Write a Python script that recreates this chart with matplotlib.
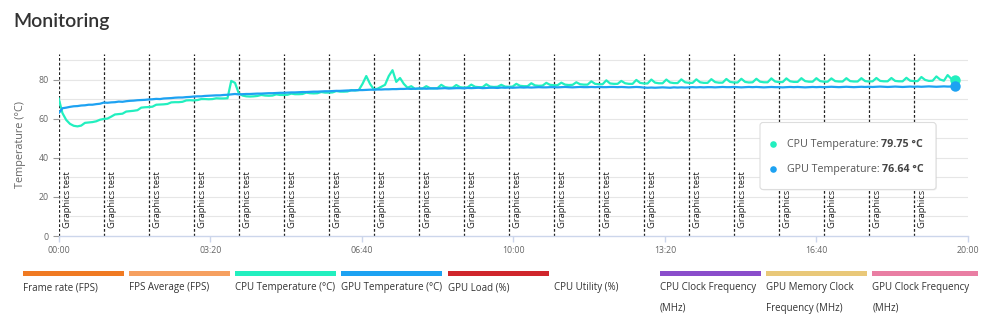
import matplotlib
matplotlib.use("Agg")
import matplotlib.pyplot as plt
from matplotlib.patches import Rectangle, FancyBboxPatch, Circle
from matplotlib.transforms import IdentityTransform, offset_copy
from matplotlib.ticker import FuncFormatter, MultipleLocator
import numpy as np

plt.rcParams['font.family'] = ['Open Sans', 'DejaVu Sans']

# ---------------- data ----------------
sample_interval_s = 4.95

cpu_temp = [
    70.5, 63.0, 59.5, 57.5, 56.5, 56.2, 56.6, 58.0, 58.2, 58.4, 58.8, 59.6,
    60.0, 60.2, 61.2, 62.3, 62.5, 62.7, 63.8, 64.0, 64.2, 64.5, 65.8, 66.0,
    66.1, 66.3, 67.3, 67.4, 67.5, 67.7, 68.5, 68.6, 68.6, 68.8, 69.5, 69.6,
    69.5, 69.7, 70.2, 70.2, 70.1, 70.2, 70.6, 70.5, 70.5, 70.6, 79.5, 78.5,
    73.2, 72.0, 71.6, 71.5, 71.6, 71.8, 72.3, 72.0, 71.9, 72.0, 72.6, 72.3,
    72.3, 72.4, 73.0, 72.7, 72.7, 72.8, 73.5, 73.2, 73.1, 73.2, 73.8, 73.5,
    73.5, 73.6, 74.3, 74.0, 74.0, 74.1, 74.8, 74.6, 74.8, 78.0, 82.0, 78.0,
    75.2, 75.5, 76.5, 77.5, 82.0, 85.0, 79.0, 81.0, 78.0, 76.0, 76.8, 75.4,
    75.6, 75.6, 76.8, 75.8, 75.6, 75.8, 77.5, 76.3, 76.0, 76.0, 77.4, 76.3,
    76.1, 76.2, 77.6, 76.5, 76.3, 76.3, 77.8, 76.6, 76.4, 76.5, 77.5, 76.6,
    76.5, 76.6, 78.0, 77.0, 76.8, 76.8, 78.3, 77.2, 77.0, 77.1, 78.5, 77.5,
    77.3, 77.3, 78.6, 77.6, 77.4, 77.5, 78.8, 77.8, 77.6, 77.6, 79.3, 78.0,
    77.8, 77.8, 79.8, 78.2, 78.0, 78.0, 79.5, 78.3, 78.0, 78.0, 80.0, 78.5,
    78.2, 78.2, 80.2, 78.6, 78.3, 78.3, 80.2, 78.7, 78.4, 78.4, 80.3, 78.8,
    78.5, 78.5, 80.3, 78.8, 78.5, 78.5, 80.4, 78.9, 78.6, 78.6, 80.5, 79.0,
    78.7, 78.7, 80.6, 79.0, 78.7, 78.8, 80.6, 79.1, 78.8, 78.8, 80.8, 79.2,
    78.9, 78.9, 80.8, 79.3, 79.0, 79.0, 80.9, 79.4, 79.1, 79.1, 80.9, 79.4,
    79.1, 79.1, 80.8, 79.4, 79.2, 79.2, 80.9, 79.4, 79.2, 79.2, 80.9, 79.4,
    79.2, 79.3, 81.0, 79.5, 79.3, 79.3, 81.0, 79.5, 79.3, 79.3, 81.1, 79.6,
    79.4, 79.4, 81.5, 80.0, 79.5, 79.6, 81.8, 80.2, 79.6, 82.5, 80.5, 79.75,
]

gpu_temp = [
    63.0, 65.5, 65.8, 66.2, 66.5, 66.6, 66.9, 67.0, 67.3, 67.3, 67.6, 67.8,
    68.4, 68.3, 68.5, 68.6, 68.9, 68.8, 69.1, 69.3, 69.4, 69.6, 69.7, 69.8,
    70.0, 70.1, 70.3, 70.2, 70.5, 70.6, 70.7, 70.9, 71.0, 71.0, 71.2, 71.3,
    71.5, 71.6, 71.6, 71.8, 71.9, 72.0, 72.1, 72.1, 72.3, 72.4, 72.6, 72.8,
    72.6, 72.7, 72.8, 72.8, 72.9, 73.0, 73.0, 73.1, 73.2, 73.2, 73.3, 73.4,
    73.4, 73.5, 73.6, 73.6, 73.7, 73.8, 73.8, 73.9, 74.0, 74.0, 74.1, 74.2,
    74.2, 74.3, 74.4, 74.4, 74.5, 74.6, 74.6, 74.7, 74.8, 74.8, 74.9, 75.0,
    75.0, 75.1, 75.1, 75.2, 75.2, 75.3, 75.3, 75.4, 75.4, 75.5, 75.4, 75.5,
    75.6, 75.6, 75.5, 75.6, 75.7, 75.6, 75.7, 75.8, 75.6, 75.7, 75.8, 75.8,
    75.7, 75.9, 75.8, 75.9, 76.0, 75.8, 75.9, 76.0, 76.0, 75.9, 76.1, 76.0,
    76.1, 76.0, 76.1, 76.2, 76.1, 76.2, 76.1, 76.2, 76.3, 76.2, 76.2, 76.3,
    76.3, 76.2, 76.3, 76.4, 76.3, 76.2, 76.3, 76.4, 76.3, 76.3, 76.4, 76.3,
    76.4, 76.3, 76.3, 76.4, 76.4, 76.3, 76.4, 76.3, 76.2, 76.3, 76.4, 76.3,
    76.1, 76.0, 76.1, 76.0, 76.1, 76.2, 76.1, 76.0, 76.2, 76.1, 76.2, 76.1,
    76.2, 76.3, 76.2, 76.3, 76.2, 76.3, 76.3, 76.2, 76.3, 76.4, 76.3, 76.3,
    76.4, 76.3, 76.2, 76.3, 76.4, 76.3, 76.4, 76.3, 76.2, 76.3, 76.4, 76.3,
    76.3, 76.2, 76.3, 76.4, 76.3, 76.4, 76.3, 76.2, 76.3, 76.4, 76.3, 76.4,
    76.3, 76.4, 76.5, 76.4, 76.3, 76.4, 76.5, 76.4, 76.3, 76.4, 76.5, 76.4,
    76.5, 76.4, 76.5, 76.6, 76.5, 76.4, 76.5, 76.6, 76.5, 76.4, 76.5, 76.6,
    76.5, 76.6, 76.5, 76.6, 76.7, 76.6, 76.5, 76.6, 76.7, 76.6, 76.6, 76.64,
]

event_times_s = [0, 59.4, 118.8, 178.2, 237.6, 297.0, 356.4, 415.8, 475.2, 534.6,
                 594.0, 653.4, 712.8, 772.2, 831.6, 891.0, 950.4, 1009.8, 1069.2, 1128.6]
event_label = "Graphics test"

legend_labels = ["Frame rate (FPS)", "FPS Average (FPS)", "CPU Temperature (°C)",
                 "GPU Temperature (°C)", "GPU Load (%)", "CPU Utility (%)",
                 "CPU Clock Frequency\n(MHz)", "GPU Memory Clock\nFrequency (MHz)",
                 "GPU Clock Frequency\n(MHz)"]
legend_colors = ["#F07A22", "#F6A060", "#22EFBF", "#1DA2F2", "#D0262C", "#FFFFFF",
                 "#8A4DCB", "#E9C879", "#E97EA3"]

cpu_color = "#22EFBF"
gpu_color = "#1DA2F2"

tooltip_rows = [("CPU Temperature: ", "79.75 °C", cpu_color),
                ("GPU Temperature: ", "76.64 °C", gpu_color)]

# ---------------- figure ----------------
W, H = 1000, 330
fig = plt.figure(figsize=(W / 100, H / 100), dpi=100)
fig.patch.set_facecolor("white")


def fx(px):
    return px / W


def fy(py):
    return 1 - py / H


ax_left, ax_right, ax_top, ax_bottom = 58.7, 968, 54, 236
ax = fig.add_axes([fx(ax_left), fy(ax_bottom), fx(ax_right) - fx(ax_left), fy(ax_top) - fy(ax_bottom)])

t = np.arange(len(cpu_temp)) * sample_interval_s

ax.set_xlim(0, 1200)
ax.set_ylim(0, 93.3)

for s in ["top", "right", "left"]:
    ax.spines[s].set_visible(False)
ax.spines["bottom"].set_color("#ccd6eb")
ax.spines["bottom"].set_linewidth(1)

ax.yaxis.set_major_locator(MultipleLocator(20))
ax.yaxis.set_minor_locator(MultipleLocator(10))
ax.xaxis.set_major_locator(MultipleLocator(200))
ax.xaxis.set_major_formatter(FuncFormatter(lambda v, p: f"{int(v // 60):02d}:{int(round(v % 60)):02d}"))

ax.tick_params(axis="x", colors="#ccd6eb", length=4, width=1, labelcolor="#666666", labelsize=6.3, pad=3)
ax.tick_params(axis="y", which="major", colors="#999999", length=4, width=0.8, labelcolor="#666666", labelsize=6.3, pad=3)
ax.tick_params(axis="y", which="minor", length=0)

for v in range(10, 100, 10):
    ax.axhline(v, color="#e6e6e6", lw=0.8, zorder=0.5)

ax.set_ylabel("Temperature (°C)", fontsize=7.8, color="#666666", labelpad=9)

# event lines
lab_trans = offset_copy(ax.transData, fig=fig, x=4.5, y=0, units="dots")
for et in event_times_s:
    ax.axvline(et, color="#222222", lw=0.9, ls=(0, (2.2, 1.6)), zorder=1.5)
    ax.text(et, 4.0, event_label, rotation=90, ha="left", va="bottom", fontsize=6.7,
            color="#222222", transform=lab_trans, zorder=1.6)

ax.plot(t, cpu_temp, color=cpu_color, lw=1.6, zorder=3, solid_joinstyle="round")
ax.plot(t, gpu_temp, color=gpu_color, lw=1.6, zorder=4, solid_joinstyle="round")
ax.plot(t[-1], cpu_temp[-1], "o", ms=7.5, color=cpu_color, mec="none", zorder=5, clip_on=False)
ax.plot(t[-1], gpu_temp[-1], "o", ms=7.5, color=gpu_color, mec="none", zorder=6, clip_on=False)

# title
fig.text(fx(13), fy(26.5), "Monitoring", fontsize=14, fontweight="semibold", color="#333333",
         family=["Lato", "DejaVu Sans"], ha="left", va="baseline")

# legend
slot_x0, slot_w, bar_w = 22.7, 106.2, 101
for i, (lab, col) in enumerate(zip(legend_labels, legend_colors)):
    x0 = slot_x0 + i * slot_w
    bw = bar_w if i < len(legend_labels) - 1 else 106
    fig.patches.append(Rectangle((fx(x0), fy(275.5)), fx(bw), fy(271) - fy(275.5),
                                 transform=fig.transFigure, facecolor=col, edgecolor="none"))
    for j, line in enumerate(lab.split("\n")):
        fig.text(fx(x0), fy(287.5 + j * 21), line, fontsize=7, color="#333333", ha="left", va="center")

# tooltip (pixel coordinates)
ident = IdentityTransform()
bx0, bx1, by0, by1 = 760, 936, 122.5, 189.5
shadow = FancyBboxPatch((bx0 + 1, H - by1 - 1), bx1 - bx0, by1 - by0,
                        boxstyle="round,pad=0,rounding_size=3", transform=ident,
                        facecolor="#000000", alpha=0.06, edgecolor="none", zorder=9)
box = FancyBboxPatch((bx0, H - by1), bx1 - bx0, by1 - by0,
                     boxstyle="round,pad=0,rounding_size=3", transform=ident,
                     facecolor="white", edgecolor="#dddddd", lw=0.8, zorder=10)
fig.patches.append(shadow)
fig.patches.append(box)

renderer = fig.canvas.get_renderer()
for k, (lab, val, col) in enumerate(tooltip_rows):
    yc = 144.5 + k * 25
    fig.patches.append(Circle((773.5, H - yc), 3.3, transform=ident, facecolor=col,
                              edgecolor="none", zorder=11))
    t1 = fig.text(fx(787), fy(yc), lab, fontsize=7.7, color="#555555", ha="left",
                  va="center", zorder=11)
    ext = t1.get_window_extent(renderer)
    fig.text(ext.x1 / W, fy(yc), val, fontsize=7.7, color="#444444", fontweight="bold",
             ha="left", va="center", zorder=11)

fig.savefig("out.png", dpi=100, facecolor="white")
